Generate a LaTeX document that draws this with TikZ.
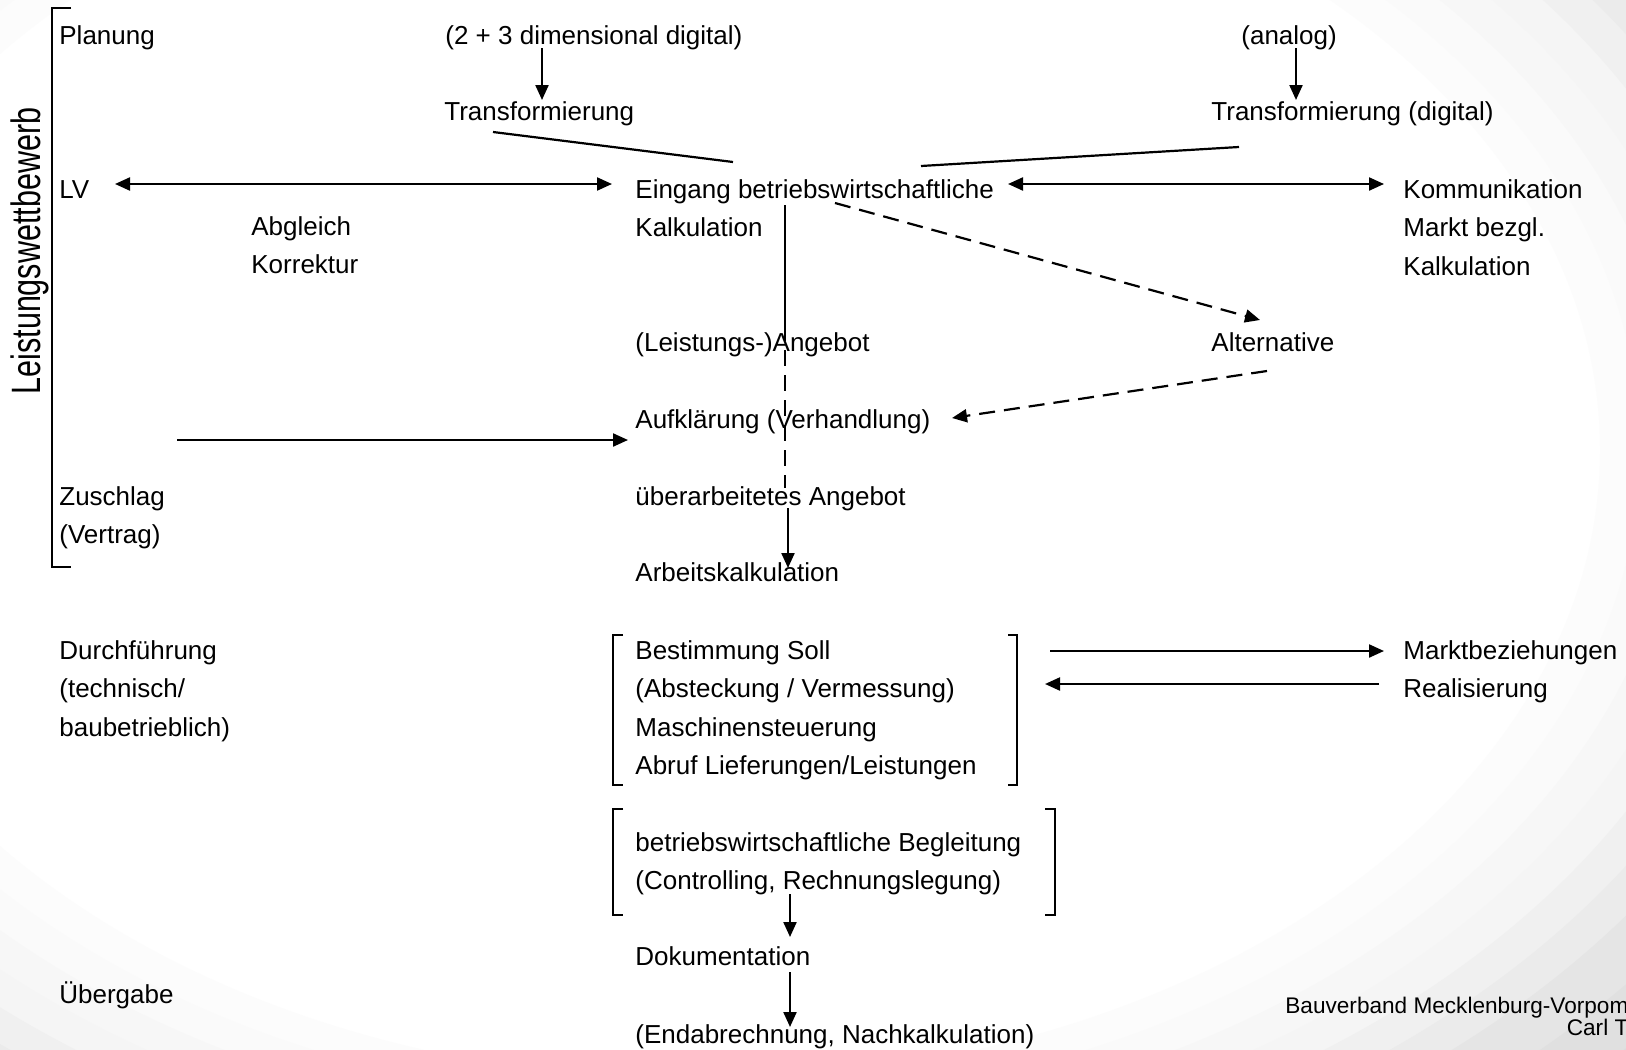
\documentclass[tikz,border=0pt]{standalone}
\usepackage{fontspec}
\setmainfont{Liberation Sans}
\usetikzlibrary{arrows.meta,calc}
\newcommand{\mlines}[1]{\vtop{\halign{##\hfil\cr#1\crcr}}}
\newcommand{\rlines}[1]{\vtop{\halign{\hfil##\cr#1\crcr}}}
\begin{document}
\begin{tikzpicture}[x=0.5pt,y=-0.5pt,
  txt/.style={inner sep=0pt, anchor=base west, font=\fontsize{13pt}{19.25pt}\selectfont},
  conn/.style={line width=1.1pt},
  arr/.style={conn, -{Triangle[length=7.5pt,width=6.5pt]}},
  darr/.style={conn, {Triangle[length=7.5pt,width=6.5pt]}-{Triangle[length=7.5pt,width=6.5pt]}},
  dashline/.style={dash pattern=on 8pt off 4.5pt},
  brack/.style={line width=1.1pt}
]
\useasboundingbox (0,0) rectangle (1626,1049);
% background (soft grey vignette)
\begin{scope}
\clip (0,0) rectangle (1626,1049);
\fill[white] (0,0) rectangle (1626,1049);
\foreach \r/\c in {45/1,47/2,49/3,51/4,53/6,55/8,57/10,60/12,63/14,67/16} {
  \fill[black!\c, even odd rule] (-400,-400) rectangle (2000,1500) (700,450) ellipse [x radius={20*\r}, y radius={14*\r}];
}
\end{scope}

% texts
\node[txt] (plan) at (59,44) {Planung};
\node[txt] (dim) at (445,44) {(2 + 3 dimensional digital)};
\node[txt] (analog) at (1241,44) {(analog)};
\node[txt] (trans1) at (444,120) {Transformierung};
\node[txt] (trans2) at (1211,120) {Transformierung (digital)};
\node[txt] (lv) at (59,198) {LV};
\node[txt] (eing) at (635,198) {\mlines{Eingang betriebswirtschaftliche\cr Kalkulation}};
\node[txt] (komm) at (1403,198) {\mlines{Kommunikation\cr Markt bezgl.\cr Kalkulation}};
\node[txt] (abgl) at (251,235) {\mlines{Abgleich\cr Korrektur}};
\node[txt] (angebot) at (635,351) {(Leistungs-)Angebot};
\node[txt] (alt) at (1211,351) {Alternative};
\node[txt] (aufkl) at (635,428) {Aufklärung (Verhandlung)};
\node[txt] (zuschlag) at (59,505) {\mlines{Zuschlag\cr (Vertrag)}};
\node[txt] (ueber) at (635,505) {überarbeitetes Angebot};
\node[txt] (arbeit) at (635,581) {Arbeitskalkulation};
\node[txt] (durch) at (59,659) {\mlines{Durchführung\cr (technisch/\cr baubetrieblich)}};
\node[txt] (best) at (635,659) {\mlines{Bestimmung Soll\cr (Absteckung / Vermessung)\cr Maschinensteuerung\cr Abruf Lieferungen/Leistungen}};
\node[txt] (markt) at (1403,659) {\mlines{Marktbeziehungen\cr Realisierung}};
\node[txt] (begl) at (635,851) {\mlines{betriebswirtschaftliche Begleitung\cr (Controlling, Rechnungslegung)}};
\node[txt] (doku) at (635,965) {Dokumentation};
\node[txt] (uebergabe) at (59,1003) {Übergabe};
\node[txt] (endab) at (635,1043) {(Endabrechnung, Nachkalkulation)};
\node[txt, font=\fontsize{11.3pt}{11pt}\selectfont] (bauv) at (1285,1013) {\rlines{Bauverband Mecklenburg-Vorpom\cr Carl T}};
\node[inner sep=0pt, anchor=base, rotate=90, font=\fontsize{20.5pt}{20.5pt}\selectfont] (leist) at (40,251) {\scalebox{0.745}[1]{Leistungswettbewerb}};

% brackets
\draw[brack] (71,8) -- (52,8) -- (52,567) -- (71,567);
\draw[brack] (623,635) -- (613,635) -- (613,785) -- (623,785);
\draw[brack] (1008,635) -- (1017,635) -- (1017,785) -- (1008,785);
\draw[brack] (623,809) -- (613,809) -- (613,915) -- (623,915);
\draw[brack] (1045,809) -- (1055,809) -- (1055,915) -- (1045,915);

% connectors
\draw[arr] ($(dim.base west)+(97,4)$) -- ($(trans1.base west)+(98,-20)$);
\draw[arr] ($(analog.base west)+(55,4)$) -- ($(trans2.base west)+(85,-20)$);
\draw[conn] ($(trans1.base west)+(49,12)$) -- ($(eing.base west)+(98,-36)$);
\draw[conn] ($(trans2.base west)+(28,27)$) -- ($(eing.base west)+(286,-32)$);
\draw[darr] ($(lv.base west)+(56,-14)$) -- ($(eing.base west)+(-23,-14)$);
\draw[darr] ($(eing.base west)+(373,-14)$) -- ($(komm.base west)+(-19,-14)$);
\draw[conn] ($(eing.base west)+(150,7)$) -- ($(angebot.base west)+(150,-26)$);
\draw[conn, dashline] ($(angebot.base west)+(150,-26)$) -- ($(ueber.base west)+(150,-17)$);
\draw[arr] ($(ueber.base west)+(153,3)$) -- ($(arbeit.base west)+(153,-13)$);
\draw[arr, dashline] ($(eing.base west)+(200,5)$) -- ($(alt.base west)+(49,-31)$);
\draw[arr, dashline] ($(alt.base west)+(56,20)$) -- ($(aufkl.base west)+(317,-10)$);
\coordinate (zs) at (177,440);
\draw[arr] (zs) -- ($(aufkl.base west)+(-7,12)$);
\draw[arr] ($(best.base west)+(415,-8)$) -- ($(markt.base west)+(-19,-8)$);
\draw[arr] ($(markt.base west)+(-24,25)$) -- ($(best.base west)+(410,25)$);
\draw[arr] ($(begl.base west)+(155,43)$) -- ($(doku.base west)+(155,-28)$);
\draw[arr] ($(doku.base west)+(155,7)$) -- ($(endab.base west)+(155,-16)$);
\end{tikzpicture}
\end{document}
